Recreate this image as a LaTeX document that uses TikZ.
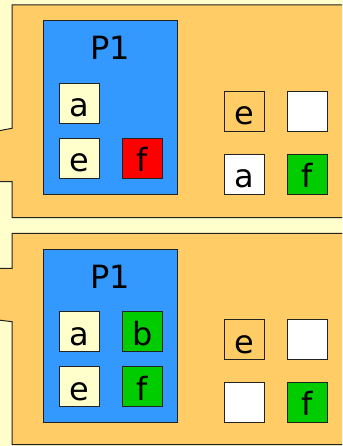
\documentclass[tikz,border=0pt]{standalone}
\usepackage{fontspec}
\setmainfont{DejaVu Sans}
\definecolor{bgyellow}{HTML}{FFFFCC}
\definecolor{panelorange}{HTML}{FFCC66}
\definecolor{procblue}{HTML}{3399FF}
\definecolor{cellred}{HTML}{FF0000}
\definecolor{cellgreen}{HTML}{00CC00}
\definecolor{edgedark}{HTML}{222222}
\tikzset{
  panel/.style={fill=panelorange, draw=edgedark, line width=1pt},
  procbox/.style={fill=procblue, draw=edgedark, line width=1pt},
  cell/.style={draw=edgedark, line width=1pt, minimum width=40pt, minimum height=40pt,
    inner sep=0pt, text height=26.8pt, text depth=0pt,
    font=\fontsize{32}{38}\selectfont},
  ptitle/.style={anchor=base, inner sep=0pt, font=\fontsize{32}{38}\selectfont}
}
\begin{document}
\begin{tikzpicture}[x=1pt,y=-1pt]
\useasboundingbox (0,0) rectangle (342,446);
\fill[bgyellow] (0,0) rectangle (342,446);
\clip (0,0) rectangle (342,446);
% top panel
\draw[panel] (12,128.3) -- (12,5) -- (360,5) -- (360,217.5) -- (12,217.5) -- (12,181.7) -- (-5,181.7) -- (-5,131.5) -- cycle;
% bottom panel
\draw[panel] (12,268.3) -- (12,233.3) -- (360,233.3) -- (360,444.5) -- (12,444.5) -- (12,321.7) -- (-5,319.6) -- (-5,268.3) -- cycle;
% top process box
\draw[procbox] (43.3,20.7) rectangle (177.7,194.3);
\node[ptitle] (p1top) at (110,60) {P1};
\node[cell, fill=bgyellow] (ta) at (79.2,103.3) {a};
\node[cell, fill=bgyellow] (te) at (79.2,158.3) {e};
\node[cell, fill=cellred] (tf) at (142.2,158.3) {f};
\node[cell, fill=panelorange] (tre) at (244.3,111.3) {e};
\node[cell, fill=white] (trw) at (307.3,111.3) {};
\node[cell, fill=white] (tra) at (244.3,174.3) {a};
\node[cell, fill=cellgreen] (trf) at (307.3,174.3) {f};
% bottom process box
\draw[procbox] (43.3,249.3) rectangle (177.7,422.3);
\node[ptitle] (p1bot) at (110,288.5) {P1};
\node[cell, fill=bgyellow] (ba) at (79.2,331.7) {a};
\node[cell, fill=cellgreen] (bb) at (142.2,331.7) {b};
\node[cell, fill=bgyellow] (be) at (79.2,386.7) {e};
\node[cell, fill=cellgreen] (bf) at (142.2,386.7) {f};
\node[cell, fill=panelorange] (bre) at (244.3,339.7) {e};
\node[cell, fill=white] (brw) at (307.3,339.7) {};
\node[cell, fill=white] (brw2) at (244.3,402.5) {};
\node[cell, fill=cellgreen] (brf) at (307.3,402.5) {f};
\end{tikzpicture}
\end{document}
